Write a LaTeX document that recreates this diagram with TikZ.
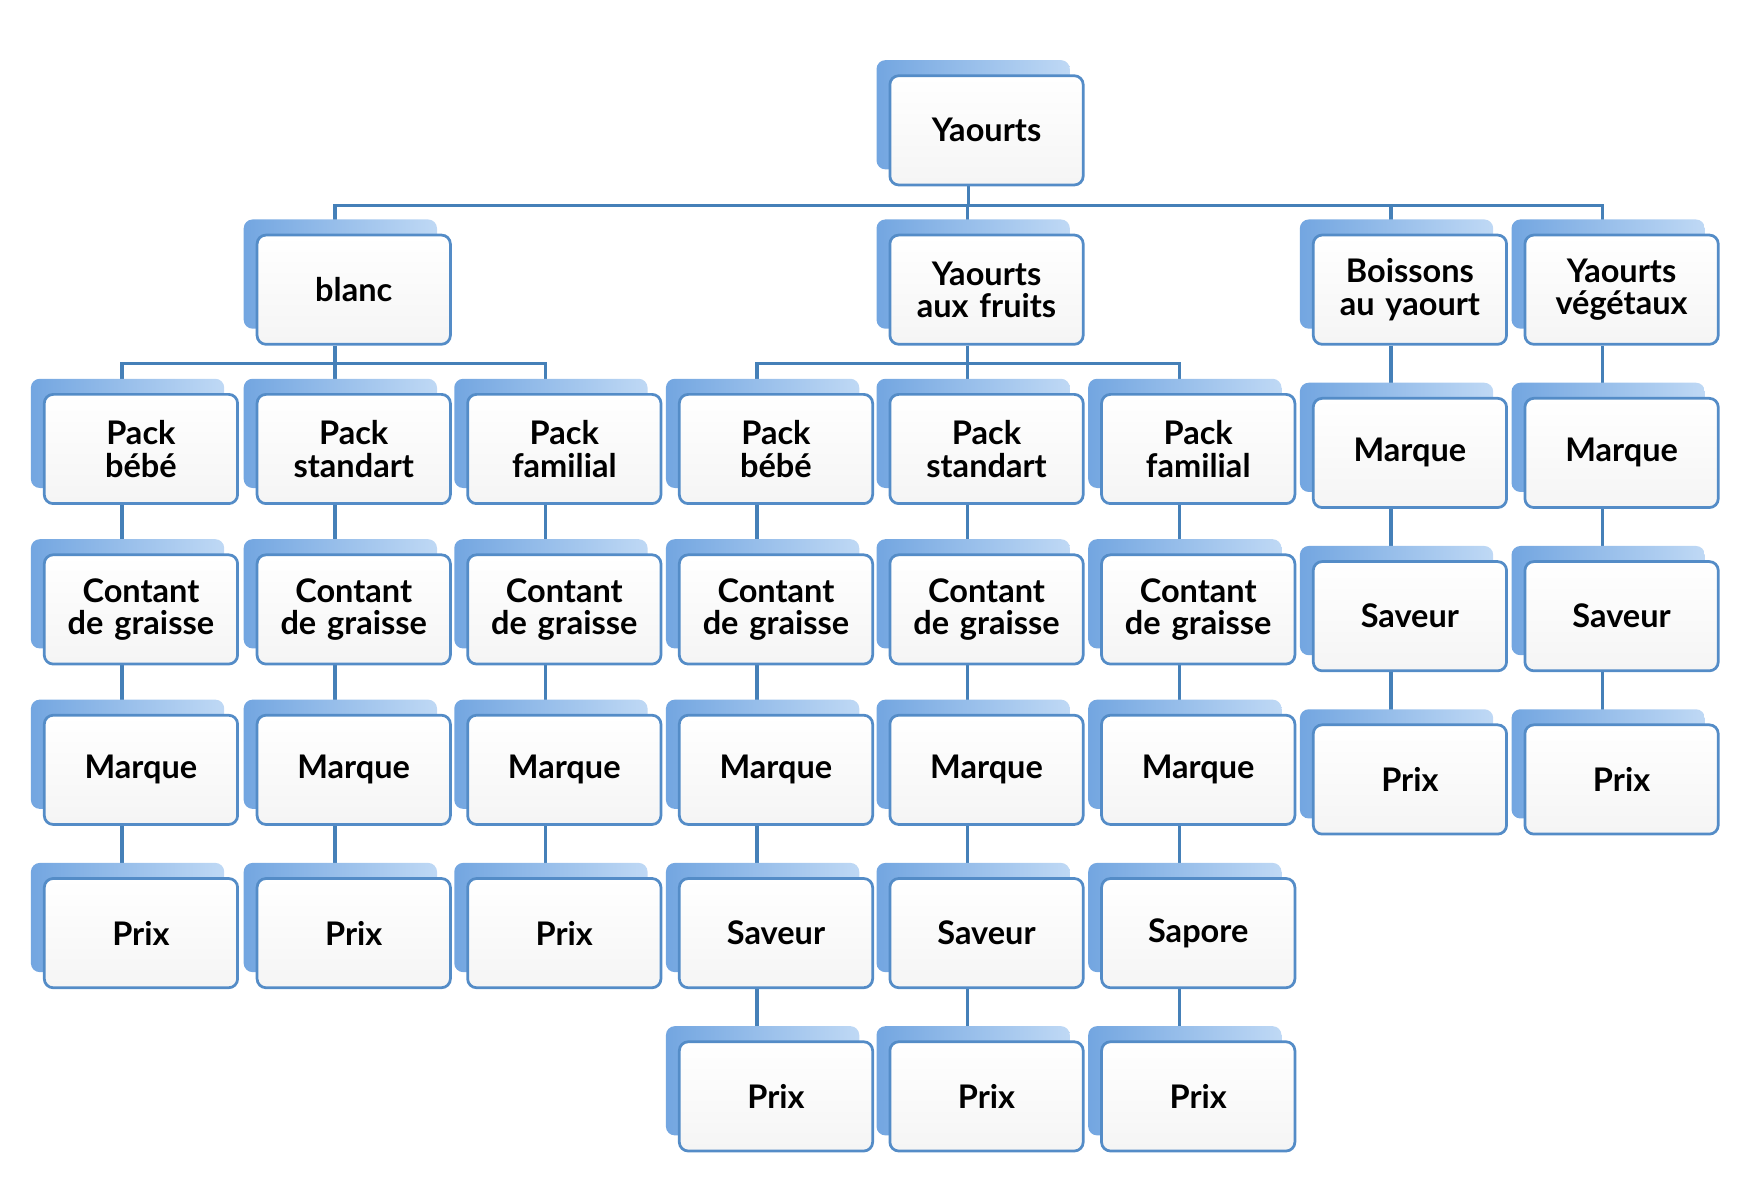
\documentclass[tikz,border=0pt]{standalone}
\usepackage{fontspec}
\setmainfont{Lato}
\usetikzlibrary{positioning,shadows,backgrounds}
\definecolor{edge}{rgb}{0.33,0.55,0.78}
\definecolor{link}{rgb}{0.27,0.50,0.72}
\definecolor{shade1}{rgb}{0.45,0.65,0.88}
\definecolor{shade2}{rgb}{0.75,0.85,0.96}
\tikzset{
  box/.style={draw=edge, line width=0.7pt, rounded corners=0.08cm,
    top color=white, bottom color=gray!8,
    minimum width=1.57cm, minimum height=0.98cm, text width=1.5cm,
    align=center, font=\bfseries\fontsize{8.3}{8.3}\selectfont,
    general shadow={shadow xshift=-0.12cm, shadow yshift=0.14cm,
      left color=shade1, right color=shade2, draw=none}},
  link/.style={draw=link, line width=0.9pt}
}
\begin{document}
\begin{tikzpicture}[x=0.01cm,y=0.01cm]
  \useasboundingbox (0,0) rectangle (1560,-1063);
  \node[box] (root) at (885.5,-117) {Yaourts};
  \node[box] (blanc) at (317.5,-260) {blanc};
  \node[box] (fruits) at (885.5,-260) {Yaourts\\aux fruits};
  \node[box] (boiss) at (1265.5,-260) {Boissons\\au yaourt};
  \node[box] (veget) at (1455.5,-260) {Yaourts\\végétaux};
  \foreach \i/\xx/\txt in {1/126.5/{Pack\\bébé},2/317.5/{Pack\\standart},3/506.5/{Pack\\familial},
      4/696.5/{Pack\\bébé},5/885.5/{Pack\\standart},6/1075.5/{Pack\\familial}} {
    \node[box] (p\i) at (\xx,-403) {\txt};
    \node[box] (g\i) at (\xx,-547) {Contant\\de graisse};
    \node[box] (m\i) at (\xx,-691) {Marque};
  }
  % prix of the blanc packs
  \foreach \i in {1,2,3}
    \node[box, below=0.46cm of m\i] (x\i) {Prix};
  % saveur and prix of the fruit packs
  \foreach \i/\txt in {4/Saveur,5/Saveur,6/Sapore} {
    \node[box, below=0.46cm of m\i] (s\i) {\txt};
    \node[box, below=0.46cm of s\i] (x\i) {Prix};
  }
  \foreach \i/\top in {7/boiss,8/veget} {
    \node[box, below=0.46cm of \top] (m\i) {Marque};
    \node[box, below=0.46cm of m\i] (s\i) {Saveur};
    \node[box, below=0.46cm of s\i] (x\i) {Prix};
  }
  \begin{scope}[on background layer]
    \foreach \c in {blanc,fruits,boiss,veget}
      \draw[link] ([xshift=-0.16cm]root.south) -- ++(0,-0.17cm) -| ([xshift=-0.17cm]\c.north);
    \foreach \c in {1,2,3}
      \draw[link] ([xshift=-0.17cm]blanc.south) -- ++(0,-0.16cm) -| ([xshift=-0.17cm]p\c.north);
    \foreach \c in {4,5,6}
      \draw[link] ([xshift=-0.17cm]fruits.south) -- ++(0,-0.16cm) -| ([xshift=-0.17cm]p\c.north);
    \foreach \i in {1,...,6} {
      \draw[link] ([xshift=-0.17cm]p\i.south) -- ([xshift=-0.17cm]g\i.north);
      \draw[link] ([xshift=-0.17cm]g\i.south) -- ([xshift=-0.17cm]m\i.north);
    }
    \foreach \i in {1,2,3}
      \draw[link] ([xshift=-0.17cm]m\i.south) -- ([xshift=-0.17cm]x\i.north);
    \foreach \i in {4,...,8} {
      \draw[link] ([xshift=-0.17cm]m\i.south) -- ([xshift=-0.17cm]s\i.north);
      \draw[link] ([xshift=-0.17cm]s\i.south) -- ([xshift=-0.17cm]x\i.north);
    }
    \draw[link] ([xshift=-0.17cm]boiss.south) -- ([xshift=-0.17cm]m7.north);
    \draw[link] ([xshift=-0.17cm]veget.south) -- ([xshift=-0.17cm]m8.north);
  \end{scope}
\end{tikzpicture}
\end{document}
